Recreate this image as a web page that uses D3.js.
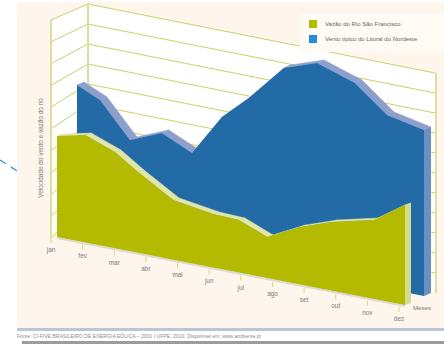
<!DOCTYPE html>
<html>
<head>
<meta charset="utf-8">
<script src="https://cdn.jsdelivr.net/npm/d3@7"></script>
<style>
  html, body { margin: 0; padding: 0; background: #fff; }
  svg { display: block; }
  text { font-family: "Liberation Sans", sans-serif; }
</style>
</head>
<body>
<div id="chart"></div>
<script>
var months = ["jan", "fev", "mar", "abr", "mai", "jun", "jul", "ago", "set", "out", "nov", "dez"];
var gridLevels = [0, 10, 20, 30, 40, 50, 60, 70, 80, 90, 100];

// posição no ano (0 = jan, 11 = dez) e valor de cada série
var riverMonths = [0, 0.89, 1.83, 2.56, 3.67, 4.93, 5.75, 6.64, 7.68, 8.69, 10.02, 11];
var riverValues = [46.5, 49.5, 44.4, 37.2, 27.5, 24.7, 24.2, 18.9, 26.5, 31.7, 36.4, 46.1];
var windMonths = [0, 0.73, 1.68, 2.69, 3.65, 4.6, 5.45, 6.56, 7.61, 8.81, 9.83, 11];
var windValues = [67.6, 62.7, 46.4, 52.8, 46.1, 66.1, 77.7, 95.3, 100.8, 94.9, 82.7, 79];

var legendLabels = ["Vazão do Rio São Francisco", "Vento típico do Litoral do Nordeste"];
var yTitle = "Velocidade do vento e vazão do rio";
var xTitle = "Meses";
var sourceNote = "Fonte: CI-FIVE BRASILEIRO DE ENERGIA EÓLICA – 2001 / UFPE, 2010. Disponível em: www.ambiente.pt";

var width = 444, height = 344;

var svg = d3.select("#chart").append("svg")
  .attr("width", width)
  .attr("height", height)
  .attr("viewBox", "0 0 " + width + " " + height);

// Painel de fundo e rodapé
svg.append("rect").attr("x", 17).attr("y", 2).attr("width", 427).attr("height", 326).attr("fill", "#fef6ec");
svg.append("rect").attr("x", 17).attr("y", 328).attr("width", 427).attr("height", 3).attr("fill", "#b7c7da");
svg.append("rect").attr("x", 22).attr("y", 341).attr("width", 422).attr("height", 3).attr("fill", "#9c9c9c");
svg.append("line")
  .attr("x1", 0).attr("y1", 160).attr("x2", 17).attr("y2", 171)
  .attr("stroke", "#2b8ccb").attr("stroke-width", 1.2).attr("stroke-dasharray", "7 6");

// Escalas das paredes em perspectiva
var backX = d3.scaleLinear().domain([0, 11]).range([88, 435]);
var wallBackY = d3.scaleLinear().domain([0, 100]).range([204, 4]);
var wallRightY = d3.scaleLinear().domain([0, 100]).range([273, 73]);
var wallFrontY = d3.scaleLinear().domain([0, 100]).range([238, 20]);
var gridColor = "#c8d268";

svg.append("polygon")
  .attr("fill", "#fff")
  .attr("points", [[51, wallFrontY(100)], [backX(0), wallBackY(100)], [backX(11), wallRightY(100)],
    [backX(11), wallRightY(0) + 20], [backX(0), wallBackY(0)], [51, wallFrontY(0)]].join(" "));

svg.append("g").selectAll("polyline")
  .data(gridLevels)
  .enter()
  .append("polyline")
    .attr("fill", "none")
    .attr("stroke", gridColor)
    .attr("stroke-width", 1)
    .attr("points", function(d) {
      return [[51, wallFrontY(d)], [backX(0), wallBackY(d)], [backX(11), wallRightY(d)]].join(" ");
    });

[[51, wallFrontY(100), wallFrontY(0)], [backX(0), wallBackY(100), wallBackY(0)], [backX(11) + 1, wallRightY(100), wallRightY(0) + 20]]
  .forEach(function(v) {
    svg.append("line")
      .attr("x1", v[0]).attr("x2", v[0]).attr("y1", v[1]).attr("y2", v[2])
      .attr("stroke", "#d9df9c").attr("stroke-width", 2);
  });

// Desenha uma série como face frontal, faixa superior e lateral
function drawSeries(xs, vs, sx, baseY, unitY, colors, depth) {
  var top = xs.map(function(m, i) { return [sx(m), baseY(m) - unitY(vs[i])]; });
  var last = top[top.length - 1];
  var g = svg.append("g");

  d3.pairs(top).forEach(function(p) {
    g.append("polygon")
      .attr("fill", colors.band)
      .attr("stroke", colors.band)
      .attr("stroke-width", 0.5)
      .attr("points", [p[0], p[1], [p[1][0] + depth[0], p[1][1] + depth[1]], [p[0][0] + depth[0], p[0][1] + depth[1]]].join(" "));
  });

  g.append("polygon")
    .attr("fill", colors.side)
    .attr("points", [last, [last[0] + depth[0], last[1] + depth[1]],
      [last[0] + depth[0], baseY(11) + depth[1]], [last[0], baseY(11)]].join(" "));

  var area = d3.area()
    .x(function(d) { return sx(d.m); })
    .y0(function(d) { return baseY(d.m); })
    .y1(function(d) { return baseY(d.m) - unitY(d.v); });

  g.append("path")
    .attr("fill", colors.face)
    .attr("d", area(xs.map(function(m, i) { return {m: m, v: vs[i]}; })));
}

drawSeries(windMonths, windValues,
  d3.scaleLinear().domain([0, 11]).range([77, 424]),
  d3.scaleLinear().domain([0, 11]).range([227, 296]),
  d3.scaleLinear().domain([0, 100]).range([0, 210]),
  {face: "#236ba6", band: "#8d9fcc", side: "#6d8fc0"}, [7, -3]);

// Borda clara do piso sob a série da frente
var riverX = d3.scaleLinear().domain([0, 11]).range([57, 405]);
var riverBase = d3.scaleLinear().domain([0, 11]).range([237, 305]);
svg.append("line")
  .attr("x1", riverX(0)).attr("y1", riverBase(0) + 1)
  .attr("x2", riverX(11)).attr("y2", riverBase(11) + 1)
  .attr("stroke", "#dcdad6").attr("stroke-width", 2);

drawSeries(riverMonths, riverValues, riverX, riverBase,
  d3.scaleLinear().domain([0, 100]).range([0, 217]),
  {face: "#b4ba00", band: "#dfe6a8", side: "#d3dc8e"}, [6, -2]);

// Eixo dos meses
var tickX = d3.scalePoint().domain(months).range([51, 399]);
var tickY = d3.scaleLinear().domain([51, 399]).range([238, 307]);
var tickG = svg.append("g").selectAll("g")
  .data(months)
  .enter()
  .append("g")
    .attr("transform", function(d) { return "translate(" + tickX(d) + "," + tickY(tickX(d)) + ")"; });

tickG.append("line")
  .attr("y1", 0).attr("y2", 5)
  .attr("stroke", "#d3d96f");

tickG.append("text")
  .attr("y", 14)
  .attr("text-anchor", "middle")
  .attr("font-size", "6.4px")
  .attr("fill", "#7a7a78")
  .text(function(d) { return d; });

svg.append("text")
  .attr("x", 422).attr("y", 310)
  .attr("text-anchor", "middle")
  .attr("font-size", "6.2px")
  .attr("fill", "#7a7a78")
  .text(xTitle);

svg.append("text")
  .attr("transform", "translate(43,148) rotate(-90)")
  .attr("text-anchor", "middle")
  .attr("font-size", "6.4px")
  .attr("fill", "#7a7a78")
  .text(yTitle);

// Legenda
var legend = svg.append("g");
legend.append("rect")
  .attr("x", 300).attr("y", 13).attr("width", 150).attr("height", 39).attr("rx", 5)
  .attr("fill", "#fffaf4");

var legendColors = ["#b4ba00", "#1f8ed6"];
var legendRow = d3.scalePoint().domain(legendLabels).range([24, 39]);
var rows = legend.selectAll(".row")
  .data(legendLabels)
  .enter()
  .append("g")
    .attr("class", "row")
    .attr("transform", function(d) { return "translate(309," + legendRow(d) + ")"; });

rows.append("rect")
  .attr("y", -4).attr("width", 8).attr("height", 8)
  .attr("fill", function(d, i) { return legendColors[i]; });

rows.append("text")
  .attr("x", 16).attr("y", 2)
  .attr("font-size", "6px")
  .attr("fill", "#666")
  .text(function(d) { return d; });

// Fonte
svg.append("text")
  .attr("x", 17).attr("y", 338)
  .attr("font-size", "5.1px")
  .attr("fill", "#8a8a92")
  .text(sourceNote);
</script>
</body>
</html>
